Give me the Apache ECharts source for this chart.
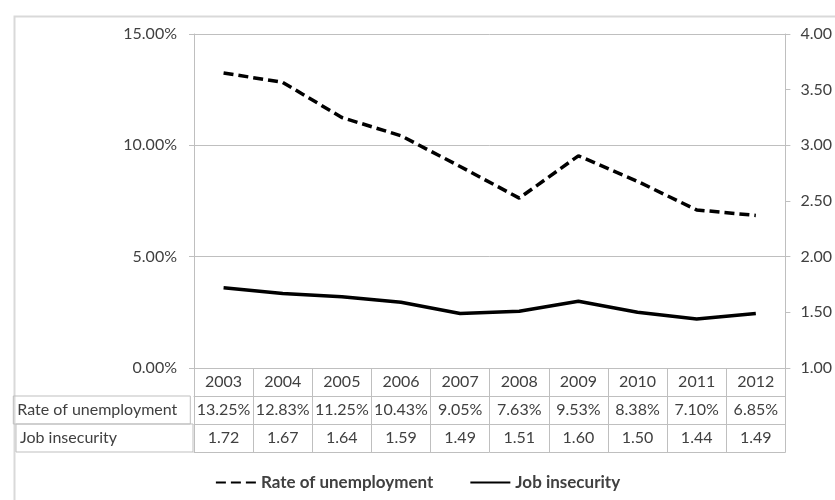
<!DOCTYPE html>
<html>
<head>
<meta charset="utf-8">
<script src="https://cdn.jsdelivr.net/npm/echarts@6/dist/echarts.min.js"></script>
<style>
html,body{margin:0;padding:0;background:#fff;}
#chart{width:835px;height:500px;}
</style>
</head>
<body>
<div id="chart"></div>
<script>
var years = ['2003','2004','2005','2006','2007','2008','2009','2010','2011','2012'];
var unemployment = [13.25, 12.83, 11.25, 10.43, 9.05, 7.63, 9.53, 8.38, 7.10, 6.85];
var jobInsecurity = [1.72, 1.67, 1.64, 1.59, 1.49, 1.51, 1.60, 1.50, 1.44, 1.49];
var seriesNames = ['Rate of unemployment', 'Job insecurity'];

var FONT = 'Lato, "Open Sans", sans-serif';
var GRAY = '#bfbfbf';
var TXT = '#404040';
var FS = 16;

function rowLabel(name, h) {
  return {
    name: '{c|' + name + '}',
    nameLocation: 'start',
    nameGap: 178,
    nameTextStyle: {
      align: 'left', verticalAlign: 'top',
      rich: {
        c: {
          width: 173, height: h, lineHeight: h,
          padding: [0, 0, 0, 4], borderColor: GRAY, borderWidth: 1,
          color: TXT, fontSize: FS, fontFamily: FONT, align: 'left'
        }
      }
    }
  };
}

var chart = echarts.init(document.getElementById('chart'), null, {renderer: 'canvas'});
var option = {
  animation: false,
  backgroundColor: '#fff',
  textStyle: {fontFamily: FONT},
  graphic: [{
    type: 'rect', left: 12, top: 14, silent: true,
    shape: {width: 900, height: 600},
    style: {fill: 'none', stroke: '#d9d9d9', lineWidth: 2}
  }],
  grid: {left: 194, right: 47, top: 34, bottom: 132},
  legend: {
    left: 'center', top: 469,
    itemWidth: 40, itemHeight: 14, itemGap: 36,
    itemStyle: {opacity: 0},
    textStyle: {fontFamily: FONT, fontSize: 17, fontWeight: 'bold', color: TXT},
    data: seriesNames
  },
  xAxis: [
    {
      type: 'category', data: years, position: 'bottom', boundaryGap: true,
      axisLine: {show: true, lineStyle: {color: GRAY, width: 1}},
      axisTick: {show: true, interval: 0, length: 84, lineStyle: {color: GRAY}},
      axisLabel: {interval: 0, margin: 6, color: TXT, fontSize: FS, fontFamily: FONT}
    },
    Object.assign({
      type: 'category', data: years, position: 'bottom', offset: 28, boundaryGap: true,
      axisLine: {show: true, lineStyle: {color: GRAY, width: 1}},
      axisTick: {show: false},
      axisLabel: {interval: 0, margin: 6, color: TXT, fontSize: FS, fontFamily: FONT,
        formatter: function (v, i) { return unemployment[i].toFixed(2) + '%'; }}
    }, rowLabel(seriesNames[0], 28)),
    Object.assign({
      type: 'category', data: years, position: 'bottom', offset: 56, boundaryGap: true,
      axisLine: {show: true, lineStyle: {color: GRAY, width: 1}},
      axisTick: {show: false},
      axisLabel: {interval: 0, margin: 6, color: TXT, fontSize: FS, fontFamily: FONT,
        formatter: function (v, i) { return jobInsecurity[i].toFixed(2); }}
    }, rowLabel(seriesNames[1], 28)),
    {
      type: 'category', data: years, position: 'bottom', offset: 84, boundaryGap: true,
      axisLine: {show: true, lineStyle: {color: GRAY, width: 1}},
      axisTick: {show: false},
      axisLabel: {show: false}
    }
  ],
  yAxis: [
    {
      type: 'value', position: 'left', min: 0, max: 15, interval: 5,
      axisLine: {show: true, lineStyle: {color: GRAY}},
      axisTick: {show: true, length: 5, lineStyle: {color: GRAY}},
      splitLine: {show: true, lineStyle: {color: GRAY}},
      axisLabel: {margin: 17, color: TXT, fontSize: FS, fontFamily: FONT,
        formatter: function (v) { return v.toFixed(2) + '%'; }}
    },
    {
      type: 'value', position: 'right', min: 1, max: 4, interval: 0.5,
      axisLine: {show: true, lineStyle: {color: GRAY}},
      axisTick: {show: true, length: 5, lineStyle: {color: GRAY}},
      splitLine: {show: false},
      axisLabel: {margin: 15, color: TXT, fontSize: FS, fontFamily: FONT,
        formatter: function (v) { return v.toFixed(2); }}
    }
  ],
  series: [
    {
      name: seriesNames[0], type: 'line', xAxisIndex: 0, yAxisIndex: 0,
      data: unemployment, symbol: 'none',
      lineStyle: {color: '#000', width: 3.5, type: [10, 5]},
      itemStyle: {color: '#000'}
    },
    {
      name: seriesNames[1], type: 'line', xAxisIndex: 0, yAxisIndex: 1,
      data: jobInsecurity, symbol: 'none',
      lineStyle: {color: '#000', width: 3.5, type: 'solid'},
      itemStyle: {color: '#000'}
    }
  ]
};
chart.setOption(option);
</script>
</body>
</html>
